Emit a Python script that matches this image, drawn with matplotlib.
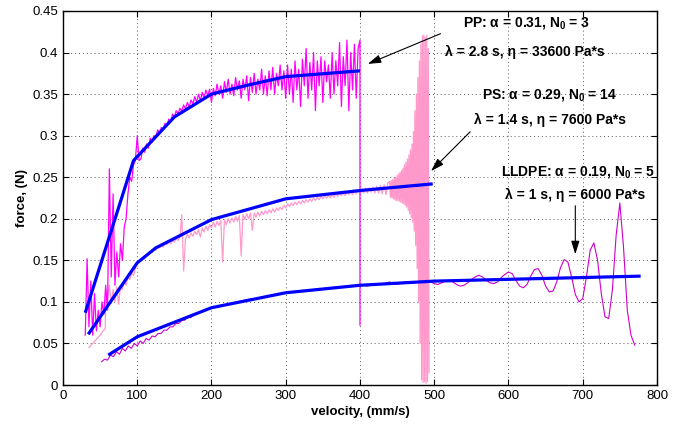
import numpy as np
import matplotlib
matplotlib.use('Agg')
import matplotlib.pyplot as plt

plt.rcParams['font.family'] = ['Liberation Sans', 'DejaVu Sans']
plt.rcParams['mathtext.fontset'] = 'custom'
plt.rcParams['mathtext.rm'] = 'Liberation Sans:bold'
plt.rcParams['mathtext.it'] = 'Liberation Sans:bold'
plt.rcParams['mathtext.bf'] = 'Liberation Sans:bold'

# ---- measured data (force in N vs velocity in mm/s) ----
# PP: step 2.5 mm/s from 30 to 397.5, then the drop at 400
pp_y = [0.060, 0.152, 0.070, 0.125, 0.060, 0.110, 0.065, 0.090, 0.070,
        0.100, 0.085, 0.120, 0.090, 0.260, 0.130, 0.230, 0.120, 0.160,
        0.130, 0.170, 0.150, 0.190, 0.200, 0.230, 0.250, 0.245, 0.265,
        0.270, 0.300, 0.270, 0.272, 0.285, 0.280, 0.290, 0.285, 0.297,
        0.292, 0.300, 0.298, 0.307, 0.303, 0.310, 0.307, 0.315, 0.312,
        0.320, 0.316, 0.326, 0.322, 0.330, 0.326, 0.333, 0.329, 0.337,
        0.332, 0.340, 0.335, 0.343, 0.338, 0.347, 0.340, 0.350, 0.342,
        0.352, 0.345, 0.355, 0.348, 0.356, 0.340, 0.357, 0.348, 0.362,
        0.350, 0.360, 0.345, 0.365, 0.352, 0.368, 0.350, 0.362, 0.348,
        0.370, 0.355, 0.366, 0.345, 0.368, 0.355, 0.372, 0.342, 0.370,
        0.352, 0.375, 0.350, 0.368, 0.355, 0.380, 0.350, 0.372, 0.348,
        0.378, 0.355, 0.382, 0.350, 0.375, 0.360, 0.385, 0.355, 0.378,
        0.345, 0.385, 0.350, 0.380, 0.340, 0.390, 0.355, 0.380, 0.335,
        0.392, 0.360, 0.405, 0.345, 0.388, 0.355, 0.400, 0.330, 0.390,
        0.360, 0.395, 0.340, 0.390, 0.365, 0.385, 0.345, 0.400, 0.350,
        0.390, 0.360, 0.412, 0.335, 0.395, 0.360, 0.415, 0.330, 0.400,
        0.355, 0.410, 0.345, 0.405, 0.415, 0.072]
pp_x = np.append(np.arange(30, 400, 2.5), [400, 400])

# PS: start ramp, 2.5 mm/s parts, then 1 mm/s part at the unstable end
ps_x1 = [35, 40, 45, 50, 55, 57, 57.5]
ps_y1 = [0.045, 0.050, 0.055, 0.060, 0.066, 0.068, 0.110]
ps_y2 = [0.105, 0.120, 0.098, 0.115, 0.100, 0.118, 0.097, 0.120, 0.115,
         0.125, 0.120, 0.130, 0.127, 0.135, 0.132, 0.140]          # 60..97.5
ps_y3 = [0.146, 0.149, 0.149, 0.153, 0.152, 0.156, 0.156, 0.160, 0.159, 0.163,
         0.162, 0.166, 0.165, 0.168, 0.166, 0.170, 0.169, 0.172, 0.170, 0.174,
         0.172, 0.176, 0.174, 0.178, 0.205, 0.137, 0.176, 0.181, 0.177, 0.183,
         0.179, 0.185, 0.181, 0.187, 0.178, 0.189, 0.184, 0.191, 0.186, 0.193,
         0.189, 0.196, 0.190, 0.197, 0.192, 0.198, 0.148, 0.199, 0.193, 0.200,
         0.195, 0.201, 0.196, 0.203, 0.197, 0.204, 0.155, 0.205, 0.199, 0.206,
         0.200, 0.207, 0.186, 0.207, 0.202, 0.208, 0.203, 0.209, 0.205, 0.210,
         0.206, 0.211, 0.207, 0.212, 0.208, 0.213, 0.210, 0.214, 0.211, 0.216,
         0.213, 0.218, 0.215, 0.219, 0.216, 0.220, 0.217, 0.221, 0.218, 0.222,
         0.219, 0.223, 0.220, 0.224, 0.221, 0.225, 0.222, 0.226, 0.223, 0.227,
         0.224, 0.228, 0.225, 0.228, 0.225, 0.229, 0.226, 0.230, 0.227, 0.231,
         0.228, 0.231, 0.228, 0.232, 0.229, 0.233, 0.229, 0.234, 0.230, 0.235,
         0.231, 0.236, 0.231, 0.237, 0.231, 0.237, 0.232, 0.238, 0.231, 0.239,
         0.231, 0.240, 0.230, 0.241, 0.229, 0.243]                  # 100..437.5
ps_y4 = [0.245, 0.226, 0.246, 0.225, 0.247, 0.224, 0.249, 0.223, 0.250,
         0.222, 0.252, 0.222, 0.254, 0.221, 0.256, 0.220, 0.258, 0.219,
         0.261, 0.218, 0.265, 0.216, 0.268, 0.214, 0.272, 0.210, 0.277,
         0.206, 0.283, 0.201, 0.290, 0.196, 0.305, 0.185, 0.330, 0.168,
         0.350, 0.140, 0.370, 0.100, 0.390, 0.050, 0.410, 0.006, 0.420,
         0.003, 0.421, 0.004, 0.418, 0.002, 0.421, 0.004, 0.405, 0.015]  # 440..493
ps_x = np.concatenate([ps_x1, np.arange(60, 100, 2.5),
                       np.arange(100, 440, 2.5), np.arange(440, 494, 1)])
ps_y = ps_y1 + ps_y2 + ps_y3 + ps_y4

# LLDPE
ld_y1 = [0.028, 0.031, 0.030, 0.036, 0.034, 0.040, 0.037, 0.044, 0.041,
         0.047, 0.044, 0.050, 0.047, 0.053, 0.050, 0.056, 0.054, 0.059,
         0.058, 0.062, 0.062, 0.066, 0.066, 0.070, 0.070, 0.074, 0.074,
         0.078, 0.078, 0.082, 0.081, 0.085, 0.085, 0.088, 0.088, 0.091,
         0.091, 0.093]                                              # 52..200
ld_y2 = [0.095, 0.097, 0.099, 0.101, 0.103, 0.104, 0.106, 0.108, 0.109,
         0.111, 0.112, 0.113, 0.114, 0.115, 0.116, 0.117, 0.118, 0.118,
         0.119, 0.121, 0.119, 0.122, 0.121, 0.124, 0.121, 0.124, 0.122,
         0.125]                                                     # 210..480
ld_y3 = [0.123, 0.126, 0.124, 0.122, 0.121, 0.123, 0.125, 0.126, 0.124,
         0.121, 0.119, 0.120, 0.123, 0.127, 0.130, 0.132, 0.130, 0.126,
         0.123, 0.122, 0.124, 0.129, 0.133, 0.136, 0.134, 0.126, 0.119,
         0.117, 0.121, 0.131, 0.139, 0.140, 0.132, 0.119, 0.112, 0.113,
         0.124, 0.141, 0.151, 0.148, 0.130, 0.109, 0.100, 0.104, 0.130,
         0.162, 0.171, 0.150, 0.110, 0.082, 0.080, 0.115, 0.180, 0.219,
         0.165, 0.090, 0.060, 0.048]                                # 485..770
ld_x = np.concatenate([np.arange(52, 201, 4), np.arange(210, 481, 10),
                       np.arange(485, 771, 5)])
ld_y = ld_y1 + ld_y2 + ld_y3

# model fits
pp_fit_x = [30, 95, 150, 200, 250, 300, 400]
pp_fit_y = [0.087, 0.270, 0.3225, 0.350, 0.361, 0.371, 0.378]
ps_fit_x = [34, 100, 125, 200, 300, 400, 498]
ps_fit_y = [0.061, 0.147, 0.165, 0.199, 0.224, 0.234, 0.242]
ld_fit_x = [61, 100, 200, 300, 400, 500, 778]
ld_fit_y = [0.036, 0.058, 0.093, 0.111, 0.120, 0.125, 0.131]

xticks = [0, 100, 200, 300, 400, 500, 600, 700, 800]
yticks = [0, 0.05, 0.1, 0.15, 0.2, 0.25, 0.3, 0.35, 0.4, 0.45]
ytick_labels = ['0', '0.05', '0.1', '0.15', '0.2', '0.25', '0.3', '0.35', '0.4', '0.45']

fig = plt.figure(figsize=(6.83, 4.26), dpi=100)
ax = fig.add_axes([0.0922, 0.0962, 0.8697, 0.878])

ax.plot(ps_x, ps_y, color='#ff99cc', lw=0.9)
ax.plot(pp_x, pp_y, color='#ff00ff', lw=0.9)
ax.plot(ld_x, ld_y, color='#cc00cc', lw=0.8)
for fx, fy in [(pp_fit_x, pp_fit_y), (ps_fit_x, ps_fit_y), (ld_fit_x, ld_fit_y)]:
    ax.plot(fx, fy, color='#0000ff', lw=2.3, solid_capstyle='butt')

ax.set_xlim(0, 800)
ax.set_ylim(0, 0.45)
ax.set_xticks(xticks)
ax.set_yticks(yticks)
ax.set_yticklabels(ytick_labels)
ax.tick_params(direction='in', top=True, right=True, length=4, labelsize=9.5, width=0.8)
ax.grid(True, linestyle=(0, (1, 3)), color='0.35', lw=0.7)
for s in ax.spines.values():
    s.set_linewidth(1.0)

ax.set_xlabel('velocity, (mm/s)', fontsize=9.5, fontweight='bold', labelpad=3)
ax.set_ylabel('force, (N)', fontsize=9.5, fontweight='bold', labelpad=3)

tkw = dict(fontsize=10, fontweight='bold', ha='center', va='center')
ax.text(624, 0.4356, 'PP: α = 0.31, N$_0$ = 3', **tkw)
ax.text(622, 0.4007, 'λ = 2.8 s, η = 33600 Pa*s', **tkw)
ax.text(656, 0.349, 'PS: α = 0.29, N$_0$ = 14', **tkw)
ax.text(656, 0.319, 'λ = 1.4 s, η = 7600 Pa*s', **tkw)
ax.text(694, 0.256, 'LLDPE: α = 0.19, N$_0$ = 5', **tkw)
ax.text(690, 0.229, 'λ = 1 s, η = 6000 Pa*s', **tkw)

akw = dict(arrowstyle='-|>,head_length=0.8,head_width=0.25', color='k', lw=0.8)
ax.annotate('', xy=(407, 0.385), xytext=(512, 0.424), arrowprops=akw)
ax.annotate('', xy=(493, 0.255), xytext=(551, 0.307), arrowprops=akw)
ax.annotate('', xy=(690, 0.154), xytext=(690, 0.219), arrowprops=akw)

fig.savefig('out.png', dpi=100)
